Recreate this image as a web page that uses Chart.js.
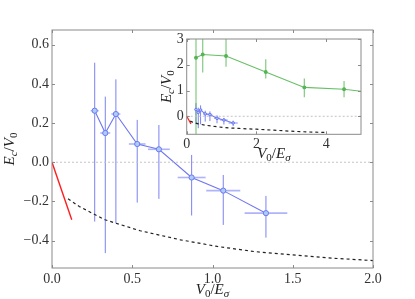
<!DOCTYPE html>
<html>
<head>
<meta charset="utf-8">
<script src="https://cdn.jsdelivr.net/npm/chart.js@4.4.1/dist/chart.umd.min.js"></script>
<style>
html, body { margin: 0; padding: 0; background: #fff; }
#wrap { position: relative; width: 415px; height: 299px; }
#wrap canvas { position: absolute; left: 0; top: 0; }
</style>
</head>
<body>
<div id="wrap">
  <canvas id="mainChart" width="415" height="299"></canvas>
  <canvas id="insetChart" width="415" height="299"></canvas>
</div>
<script>
// blue series (main + inset)
const blueX = [0.266, 0.332, 0.398, 0.531, 0.666, 0.870, 1.067, 1.333];
const blueY = [0.263, 0.149, 0.246, 0.093, 0.066, -0.078, -0.145, -0.260];
const blueLow = [-0.303, -0.464, -0.311, -0.206, -0.187, -0.272, -0.320, -0.385];
const blueHigh = [0.508, 0.335, 0.423, 0.216, 0.190, 0.037, -0.065, -0.172];
const blueXErr = [0.025, 0.031, 0.028, 0.052, 0.068, 0.087, 0.106, 0.133];

// red segment near the origin
const redX = [0, 0.123];
const redY = [0, -0.294];

// dashed black curve
const dashX = [0.10, 0.17, 0.33, 0.55, 0.80, 1.03, 1.26, 1.50, 1.75, 2.00, 2.50, 3.00, 3.50, 4.00];
const dashY = [-0.187, -0.226, -0.294, -0.350, -0.396, -0.430, -0.456, -0.473, -0.490, -0.502, -0.54, -0.58, -0.61, -0.63];

// green series (inset only)
const greenX = [0.267, 0.459, 1.128, 2.267, 3.375, 4.514, 5.0];
const greenY = [2.27, 2.40, 2.34, 1.72, 1.12, 1.05, 0.97];
const greenLow = [-0.7, 1.70, 1.92, 1.47, 0.74, 0.74, 0.97];
const greenHigh = [3.0, 3.0, 3.0, 2.21, 1.47, 1.37, 0.97];

// tick labels
const xTicks = [0, 0.5, 1, 1.5, 2];
const yTicks = [-0.4, -0.2, 0, 0.2, 0.4, 0.6];
const insetXTicks = [0, 2, 4];
const insetYTicks = [0, 1, 2, 3];

const FONT = '"Liberation Serif", "DejaVu Serif", serif';
const pts = (xs, ys) => xs.map((x, i) => ({x: x, y: ys[i]}));
const fmt1 = v => (v < 0 ? '\u2212' : '') + Math.abs(v).toFixed(1);

// draws things like E_c/V_0 ; parts = [text, italic, subscript]
function drawMath(ctx, parts, cx, base, size, rotate) {
  ctx.save();
  ctx.translate(rotate ? base : cx, rotate ? cx : base);
  if (rotate) ctx.rotate(-Math.PI / 2);
  const fontOf = p => (p[1] ? 'italic ' : '') + (p[2] ? Math.round(size * 0.7) : size) + 'px ' + FONT;
  let w = 0;
  parts.forEach(p => { ctx.font = fontOf(p); w += ctx.measureText(p[0]).width; });
  let x = -w / 2;
  ctx.fillStyle = '#222';
  ctx.textBaseline = 'alphabetic';
  parts.forEach(p => {
    ctx.font = fontOf(p);
    ctx.fillText(p[0], x, p[2] ? size * 0.22 : 0);
    x += ctx.measureText(p[0]).width;
  });
  ctx.restore();
}
const xLabel = [['V', 1, 0], ['0', 0, 1], ['/', 0, 0], ['E', 1, 0], ['\u03c3', 1, 1]];
const yLabel = [['E', 1, 0], ['c', 1, 1], ['/', 0, 0], ['V', 1, 0], ['0', 0, 1]];

function drawFrame(chart, len) {
  const {ctx, chartArea: a, scales} = chart;
  ctx.save();
  ctx.strokeStyle = '#8a8a8a';
  ctx.lineWidth = 1;
  ctx.strokeRect(a.left, a.top, a.right - a.left, a.bottom - a.top);
  ctx.beginPath();
  scales.x.ticks.forEach(t => {
    const px = Math.round(scales.x.getPixelForValue(t.value)) + 0.5;
    ctx.moveTo(px, a.bottom); ctx.lineTo(px, a.bottom - len);
    ctx.moveTo(px, a.top); ctx.lineTo(px, a.top + len);
  });
  scales.y.ticks.forEach(t => {
    const py = Math.round(scales.y.getPixelForValue(t.value)) + 0.5;
    ctx.moveTo(a.left, py); ctx.lineTo(a.left + len, py);
    ctx.moveTo(a.right, py); ctx.lineTo(a.right - len, py);
  });
  ctx.stroke();
  ctx.restore();
}

function drawErrors(chart, xs, ys, lo, hi, xerr, vColor, hColor, vWidth) {
  const {ctx, chartArea: a, scales} = chart;
  ctx.save();
  ctx.beginPath();
  ctx.rect(a.left, a.top, a.right - a.left, a.bottom - a.top);
  ctx.clip();
  xs.forEach((x, i) => {
    const px = scales.x.getPixelForValue(x);
    const py = scales.y.getPixelForValue(ys[i]);
    ctx.strokeStyle = vColor;
    ctx.lineWidth = vWidth;
    ctx.beginPath();
    ctx.moveTo(px, scales.y.getPixelForValue(lo[i]));
    ctx.lineTo(px, scales.y.getPixelForValue(hi[i]));
    ctx.stroke();
    if (xerr) {
      ctx.strokeStyle = hColor;
      ctx.lineWidth = 1.6;
      ctx.beginPath();
      ctx.moveTo(scales.x.getPixelForValue(x - xerr[i]), py);
      ctx.lineTo(scales.x.getPixelForValue(x + xerr[i]), py);
      ctx.stroke();
    }
  });
  ctx.restore();
}

const tickFont = {family: FONT, size: 14};

// ---------- main chart ----------
new Chart(document.getElementById('mainChart'), {
  type: 'scatter',
  data: {
    datasets: [
      {data: pts([0, 2], [0, 0]), showLine: true, borderColor: '#c4c4c4', borderWidth: 1, borderDash: [2, 2], pointRadius: 0},
      {data: pts(dashX, dashY), showLine: true, borderColor: '#222', borderWidth: 1.2, borderDash: [3, 3], pointRadius: 0},
      {data: pts(redX, redY), showLine: true, borderColor: '#ff1e1e', borderWidth: 1.4, pointRadius: 0},
      {data: pts(blueX, blueY), showLine: true, borderColor: '#6f76f2', borderWidth: 1.1,
       pointRadius: 2.6, pointBackgroundColor: '#a9cdf4', pointBorderColor: '#6f76f2', pointBorderWidth: 1}
    ]
  },
  options: {
    responsive: false,
    animation: false,
    layout: {padding: {left: 12, top: 30, right: 42, bottom: 0}},
    plugins: {legend: {display: false}, tooltip: {enabled: false}},
    scales: {
      x: {
        type: 'linear', min: 0, max: 2,
        afterBuildTicks: s => { s.ticks = xTicks.map(v => ({value: v})); },
        afterFit: s => { s.height = 31; },
        grid: {display: false, drawTicks: false}, border: {display: false},
        ticks: {font: tickFont, color: '#333', padding: 3, callback: fmt1}
      },
      y: {
        type: 'linear', min: -0.54, max: 0.675,
        afterBuildTicks: s => { s.ticks = yTicks.map(v => ({value: v})); },
        afterFit: s => { s.width = 40; },
        grid: {display: false, drawTicks: false}, border: {display: false},
        ticks: {font: tickFont, color: '#333', padding: 3, callback: fmt1}
      }
    }
  },
  plugins: [{
    id: 'mainExtras',
    beforeDatasetsDraw(chart) {
      drawErrors(chart, blueX, blueY, blueLow, blueHigh, blueXErr, 'rgba(100,108,240,0.85)', 'rgba(110,118,245,0.55)', 1);
    },
    afterDraw(chart) {
      drawFrame(chart, 3);
      const a = chart.chartArea;
      drawMath(chart.ctx, xLabel, (a.left + a.right) / 2, 293.5, 15, false);
      drawMath(chart.ctx, yLabel, (a.top + a.bottom) / 2, 13.5, 15, true);
    }
  }]
});

// ---------- inset ----------
new Chart(document.getElementById('insetChart'), {
  type: 'scatter',
  data: {
    datasets: [
      {data: pts([0, 5], [0, 0]), showLine: true, borderColor: '#c4c4c4', borderWidth: 1, borderDash: [2, 2], pointRadius: 0},
      {data: pts(dashX, dashY), showLine: true, borderColor: '#222', borderWidth: 1.2, borderDash: [3, 3], pointRadius: 0},
      {data: pts(redX, redY), showLine: true, borderColor: '#ff1e1e', borderWidth: 1.2, pointRadius: 0},
      {data: pts(blueX, blueY), showLine: true, borderColor: '#6f76f2', borderWidth: 1.1,
       pointRadius: 1.3, pointBackgroundColor: '#a9cdf4', pointBorderColor: '#6f76f2', pointBorderWidth: 1},
      {data: pts(greenX, greenY), showLine: true, borderColor: '#66c066', borderWidth: 1.1,
       pointRadius: greenX.map((x, i) => i < greenX.length - 1 ? 1.4 : 0), pointBackgroundColor: '#55b455', pointBorderColor: '#55b455'}
    ]
  },
  options: {
    responsive: false,
    animation: false,
    layout: {padding: {left: 166.7, top: 39, right: 54, bottom: 144.7}},
    plugins: {legend: {display: false}, tooltip: {enabled: false}},
    scales: {
      x: {
        type: 'linear', min: 0, max: 5,
        afterBuildTicks: s => { s.ticks = insetXTicks.map(v => ({value: v})); },
        afterFit: s => { s.height = 20; },
        grid: {display: false, drawTicks: false}, border: {display: false},
        ticks: {font: tickFont, color: '#333', padding: 2, callback: v => String(v)}
      },
      y: {
        type: 'linear', min: -0.7, max: 3,
        afterBuildTicks: s => { s.ticks = insetYTicks.map(v => ({value: v})); },
        afterFit: s => { s.width = 20; },
        grid: {display: false, drawTicks: false}, border: {display: false},
        ticks: {font: tickFont, color: '#333', padding: 3, callback: v => String(v)}
      }
    }
  },
  plugins: [{
    id: 'insetExtras',
    beforeDraw(chart) {
      const a = chart.chartArea;
      chart.ctx.save();
      chart.ctx.fillStyle = '#fff';
      chart.ctx.fillRect(a.left, a.top, a.right - a.left, a.bottom - a.top);
      chart.ctx.restore();
    },
    beforeDatasetsDraw(chart) {
      drawErrors(chart, blueX, blueY, blueLow, blueHigh, blueXErr, 'rgba(100,108,240,0.85)', 'rgba(110,118,245,0.55)', 1);
      drawErrors(chart, greenX, greenY, greenLow, greenHigh, null, 'rgba(90,185,90,0.7)', null, 1.3);
    },
    afterDraw(chart) {
      drawFrame(chart, 3);
      const a = chart.chartArea;
      drawMath(chart.ctx, xLabel, (a.left + a.right) / 2, 158, 15, false);
      drawMath(chart.ctx, yLabel, (a.top + a.bottom) / 2, 170.5, 15, true);
    }
  }]
});
</script>
</body>
</html>
